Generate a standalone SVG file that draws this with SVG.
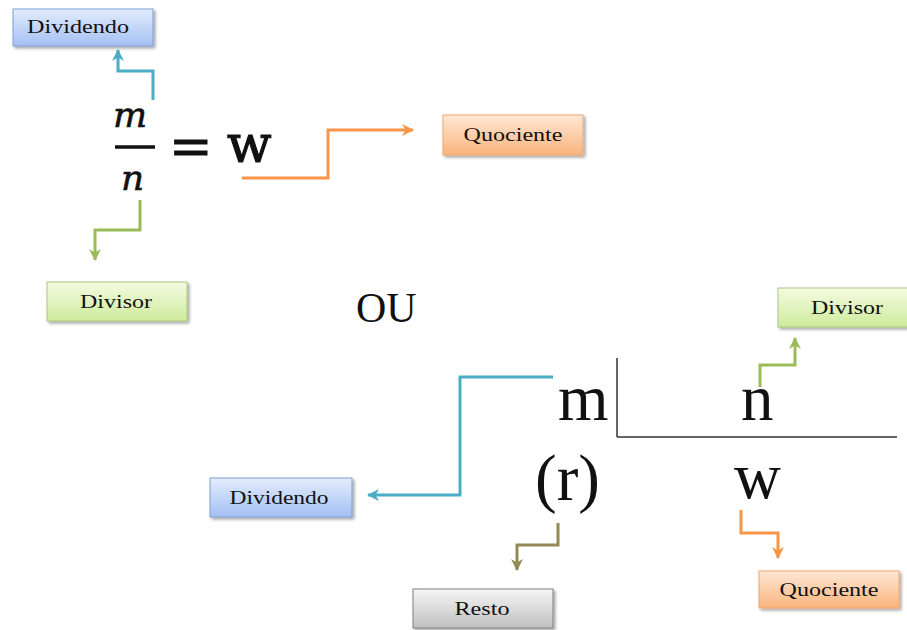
<svg xmlns="http://www.w3.org/2000/svg" width="907" height="630" viewBox="0 0 907 630">
<style>
.lbl{font-family:"Liberation Serif","Times New Roman",serif;font-size:19px;fill:#111;text-anchor:middle}
.big{font-family:"Liberation Serif","Times New Roman",serif;font-size:65px;fill:#111}
.mi{font-family:"DejaVu Serif",serif;font-style:italic;font-size:36px;fill:#111;stroke:#111;stroke-width:0.6}
.c{fill:none;stroke-width:3}
.box{stroke-width:1}
</style>
<defs>
<filter id="sh" x="-10%" y="-20%" width="130%" height="160%"><feDropShadow dx="2" dy="2" stdDeviation="1.5" flood-color="#000" flood-opacity="0.35"/></filter>
<linearGradient id="gB" x1="0" y1="0" x2="0" y2="1"><stop offset="0" stop-color="#e3ecfc"/><stop offset="1" stop-color="#a4c0f3"/></linearGradient>
<linearGradient id="gG" x1="0" y1="0" x2="0" y2="1"><stop offset="0" stop-color="#f5fbe2"/><stop offset="1" stop-color="#cdeb9c"/></linearGradient>
<linearGradient id="gO" x1="0" y1="0" x2="0" y2="1"><stop offset="0" stop-color="#fee8d6"/><stop offset="1" stop-color="#f9b47c"/></linearGradient>
<linearGradient id="gK" x1="0" y1="0" x2="0" y2="1"><stop offset="0" stop-color="#f6f6f6"/><stop offset="1" stop-color="#c0c0c0"/></linearGradient>
<marker id="aB" markerUnits="userSpaceOnUse" markerWidth="13" markerHeight="13" refX="11" refY="6.5" orient="auto"><path d="M0,0.5 L12,6.5 L0,12.5 L3.5,6.5 z" fill="#4bacc6"/></marker>
<marker id="aG" markerUnits="userSpaceOnUse" markerWidth="13" markerHeight="13" refX="11" refY="6.5" orient="auto"><path d="M0,0.5 L12,6.5 L0,12.5 L3.5,6.5 z" fill="#9bbb59"/></marker>
<marker id="aO" markerUnits="userSpaceOnUse" markerWidth="13" markerHeight="13" refX="11" refY="6.5" orient="auto"><path d="M0,0.5 L12,6.5 L0,12.5 L3.5,6.5 z" fill="#f79646"/></marker>
<marker id="aL" markerUnits="userSpaceOnUse" markerWidth="13" markerHeight="13" refX="11" refY="6.5" orient="auto"><path d="M0,0.5 L12,6.5 L0,12.5 L3.5,6.5 z" fill="#948a54"/></marker>
</defs>
<rect width="907" height="630" fill="#fff"/>

<g id="connectors">
<path class="c" stroke="#4bacc6" d="M153,100 V71 H118 V50" marker-end="url(#aB)"/>
<path class="c" stroke="#f79646" d="M242,178 H328 V130 H413" marker-end="url(#aO)"/>
<path class="c" stroke="#9bbb59" d="M140,200 V230 H95 V260" marker-end="url(#aG)"/>
<path class="c" stroke="#9bbb59" d="M760,387 V365 H795 V338" marker-end="url(#aG)"/>
<path class="c" stroke="#4bacc6" d="M553,377 H460 V495 H368" marker-end="url(#aB)"/>
<path class="c" stroke="#948a54" d="M558,523 V545 H517 V570" marker-end="url(#aL)"/>
<path class="c" stroke="#f79646" d="M741,510 V533 H778 V558" marker-end="url(#aO)"/>
</g>

<g id="fraction">
<text class="mi" x="113" y="127">m</text>
<line x1="115" y1="147" x2="155" y2="147" stroke="#111" stroke-width="3.5"/>
<text class="mi" x="121" y="190">n</text>
<text x="169" y="164" font-family="DejaVu Serif, serif" font-size="52" fill="#111" stroke="#111" stroke-width="0.8">=</text>
<text x="227" y="162" font-family="DejaVu Serif, serif" font-size="52" fill="#111" stroke="#111" stroke-width="1.2">w</text>
</g>

<g id="ou"><text x="356" y="322" font-family="Liberation Serif, serif" font-size="42" fill="#111">OU</text></g>

<g id="division">
<line x1="617" y1="358" x2="617" y2="437" stroke="#333" stroke-width="1.5"/>
<line x1="617" y1="437" x2="897" y2="437" stroke="#333" stroke-width="1.5"/>
<text class="big" x="558" y="420">m</text>
<text class="big" x="741" y="420">n</text>
<text class="big" x="535" y="500">(r)</text>
<text class="big" x="734" y="498">w</text>
</g>

<g id="dividendo-top"><rect class="box" x="13" y="9" width="140" height="37" fill="url(#gB)" stroke="#7f9fd3" filter="url(#sh)"/><text class="lbl" font-family="Liberation Serif, serif" x="78" y="33" textLength="102" lengthAdjust="spacingAndGlyphs">Dividendo</text></g>
<g id="quociente-top"><rect class="box" x="443" y="115" width="140" height="40" fill="url(#gO)" stroke="#f0a66e" filter="url(#sh)"/><text class="lbl" font-family="Liberation Serif, serif" x="513" y="141" textLength="99" lengthAdjust="spacingAndGlyphs">Quociente</text></g>
<g id="divisor-left"><rect class="box" x="47" y="282" width="140" height="39" fill="url(#gG)" stroke="#abc77f" filter="url(#sh)"/><text class="lbl" font-family="Liberation Serif, serif" x="116" y="308" textLength="72" lengthAdjust="spacingAndGlyphs">Divisor</text></g>
<g id="divisor-right"><rect class="box" x="778" y="288" width="140" height="39" fill="url(#gG)" stroke="#abc77f" filter="url(#sh)"/><text class="lbl" font-family="Liberation Serif, serif" x="847" y="314" textLength="72" lengthAdjust="spacingAndGlyphs">Divisor</text></g>
<g id="dividendo-bottom"><rect class="box" x="210" y="478" width="142" height="39" fill="url(#gB)" stroke="#7f9fd3" filter="url(#sh)"/><text class="lbl" font-family="Liberation Serif, serif" x="279" y="504" textLength="99" lengthAdjust="spacingAndGlyphs">Dividendo</text></g>
<g id="resto"><rect class="box" x="413" y="589" width="140" height="39" fill="url(#gK)" stroke="#808080" filter="url(#sh)"/><text class="lbl" font-family="Liberation Serif, serif" x="482" y="615" textLength="55" lengthAdjust="spacingAndGlyphs">Resto</text></g>
<g id="quociente-bottom"><rect class="box" x="759" y="571" width="140" height="37" fill="url(#gO)" stroke="#f0a66e" filter="url(#sh)"/><text class="lbl" font-family="Liberation Serif, serif" x="829" y="596" textLength="99" lengthAdjust="spacingAndGlyphs">Quociente</text></g>
</svg>
